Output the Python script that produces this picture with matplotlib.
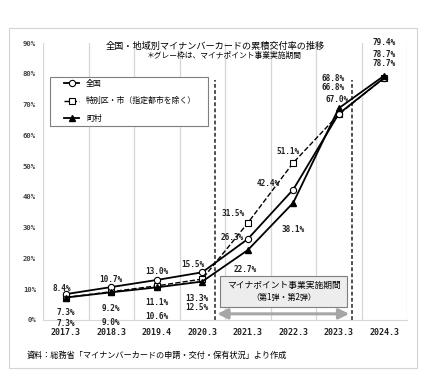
import matplotlib.pyplot as plt
from matplotlib.patches import Rectangle, FancyArrowPatch

plt.rcParams['font.family'] = ['Noto Sans CJK JP', 'DejaVu Sans']

# data
periods = ["2017.3", "2018.3", "2019.4", "2020.3", "2021.3", "2022.3", "2023.3", "2024.3"]
zenkoku = [8.4, 10.7, 13.0, 15.5, 26.3, 42.4, 67.0, 78.7]
tokubetsu = [7.3, 9.2, 11.1, 13.3, 31.5, 51.1, 66.8, 78.7]
choson = [7.3, 9.0, 10.6, 12.5, 22.7, 38.1, 68.8, 79.4]

# label offsets in pixels (dx, dy), dy positive = up
off_zen = [(-4, 6), (0, 8), (0, 8), (-9, 8), (-16, 2), (-25, 6), (-2, 14), (0, 14)]
off_tok = [(0, -15), (0, -17), (0, -17), (-5, -19), (-15, 10), (-5, 11), (-6, 27), (0, 23)]
off_cho = [(0, -26), (0, -30), (0, -29), (-5, -26), (-3, -19), (0, -27), (-6, 30), (0, 33)]

mono = 'DejaVu Sans Mono'

fig = plt.figure(figsize=(4.29, 3.81), dpi=100)
W, H = 429, 381

# outer frame
fig.patches.append(Rectangle((9 / W, 1 - 368 / H), 408 / W, 340 / H, transform=fig.transFigure,
                             fill=False, edgecolor='#d4d4d4', lw=0.8))

ax = fig.add_axes([43 / W, 1 - 320 / H, 364 / W, 277 / H])
x = list(range(len(periods)))

for b in range(len(periods) + 1):
    ax.axvline(b - 0.5, color='#d6d6d6', lw=0.9, zorder=0)

ax.plot(x, zenkoku, '-', color='black', lw=1.3, marker='o', ms=4.5,
        mfc='white', mec='black', mew=0.8, label='全国', zorder=4)
ax.plot(x, tokubetsu, '--', color='black', lw=1.0, marker='s', ms=5,
        mfc='white', mec='black', mew=0.8, label='特別区・市（指定都市を除く）', zorder=3)
ax.plot(x, choson, '-', color='black', lw=1.3, marker='^', ms=5,
        mfc='black', mec='black', label='町村', zorder=5)

for vals, offs in [(zenkoku, off_zen), (tokubetsu, off_tok), (choson, off_cho)]:
    for i, v in enumerate(vals):
        ax.annotate(f"{v:.1f}%", (i, v), xytext=(offs[i][0] * 0.72, offs[i][1] * 0.72),
                    textcoords='offset points', ha='center', va='center', fontsize=5.6,
                    family=mono, fontweight='bold', color='#222222', zorder=6)

# campaign period
for xv in [3.27, 6.29]:
    ax.plot([xv, xv], [0, 78], ls=(0, (2.5, 1.5)), color='#222222', lw=1.1, zorder=2)
ax.add_patch(Rectangle((3.40, 4.2), 2.78, 10.1, facecolor='#ededed', edgecolor='#7f7f7f',
                       lw=0.8, zorder=6))
ax.text(4.79, 11.3, "マイナポイント事業実施期間", ha='center', va='center', fontsize=6.3, zorder=7)
ax.text(4.79, 7.2, "（第1弾・第2弾）", ha='center', va='center', fontsize=5.8, zorder=7)
ax.add_patch(FancyArrowPatch((3.27, 2.0), (6.29, 2.0), arrowstyle='<|-|>,head_length=6,head_width=3',
                             color='#a6a6a6', lw=2.2, zorder=6, mutation_scale=1))

ax.set_xlim(-0.5, len(periods) - 0.5)
ax.set_ylim(0, 90)
ax.set_yticks(range(0, 91, 10))
ax.set_yticklabels([f"{t}%" for t in range(0, 91, 10)], fontsize=5.2, color='#444444',
                   family=mono, fontweight='bold')
ax.set_xticks(x)
ax.set_xticklabels(periods, fontsize=6.0, color='#222222', family=mono, fontweight='bold')
ax.tick_params(length=0)
ax.tick_params(axis='y', pad=5)
ax.tick_params(axis='x', pad=6)
for s in ['top', 'left', 'right']:
    ax.spines[s].set_visible(False)
ax.spines['bottom'].set_color('#d6d6d6')

# legend: box drawn separately for the wide side padding
fig.patches.append(Rectangle((50 / W, 1 - 126 / H), 158 / W, 49 / H, transform=fig.transFigure,
                             fill=True, facecolor='white', edgecolor='#7f7f7f', lw=0.8, zorder=3))
leg = fig.legend(loc='upper left', bbox_to_anchor=(64 / W, 1 - 79 / H), fontsize=5.7,
                 frameon=False, handlelength=1.9, borderpad=0, labelspacing=1.05,
                 handletextpad=0.9, borderaxespad=0)
leg.set_zorder(4)

fig.text(215 / W, 1 - 46 / H, "全国・地域別マイナンバーカードの累積交付率の推移",
         ha='center', va='center', fontsize=6.6)
fig.text(224 / W, 1 - 56 / H, "＊グレー枠は、マイナポイント事業実施期間",
         ha='center', va='center', fontsize=5.6)
fig.text(27 / W, 1 - 355 / H, "資料：総務省「マイナンバーカードの申請・交付・保有状況」より作成",
         ha='left', va='center', fontsize=5.9)

fig.savefig('out.png', dpi=100)
